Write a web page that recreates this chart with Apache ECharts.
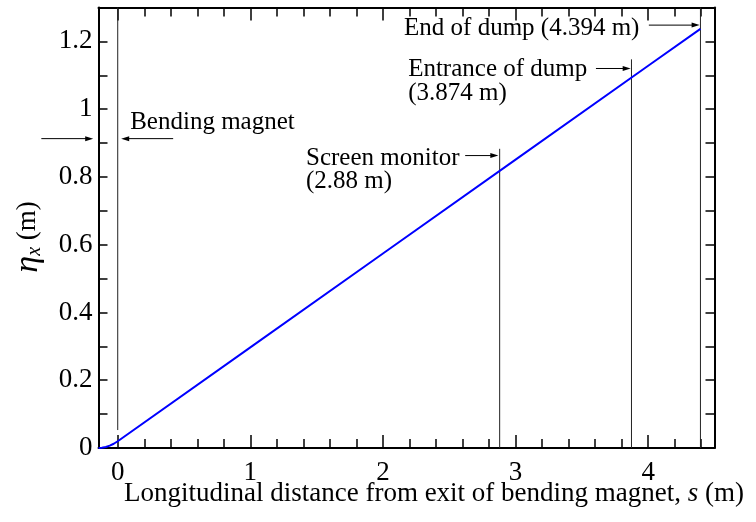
<!DOCTYPE html>
<html>
<head>
<meta charset="utf-8">
<script src="https://cdn.jsdelivr.net/npm/echarts@6/dist/echarts.min.js"></script>
<style>
  html, body { margin: 0; padding: 0; background: #fff; }
  #main { width: 756px; height: 522px; }
</style>
</head>
<body>
<div id="main"></div>
<script>
// dispersion eta_x along the line
var sVals = [-0.145, -0.12, -0.09, -0.06, -0.03, 0, 1, 2, 3, 4, 4.394];
var etaVals = [0, 0.0006, 0.0029, 0.0069, 0.0126, 0.020, 0.297, 0.574, 0.851, 1.128, 1.237];

// vertical marker lines: position, bottom, top
var markS = [0, 2.88, 3.874, 4.394];
var markLow = [0.053, 0, 0, 0];
var markHigh = [1.3, 0.883, 1.147, 1.3];

// tick values
var xLabelVals = [0, 1, 2, 3, 4];
var xMinorVals = [0.2, 0.4, 0.6, 0.8, 1.2, 1.4, 1.6, 1.8, 2.2, 2.4, 2.6, 2.8, 3.2, 3.4, 3.6, 3.8, 4.2, 4.4];
var yLabelVals = [0, 0.2, 0.4, 0.6, 0.8, 1, 1.2];

// annotation texts: [text, s, eta]
var noteTexts = [
  ['Bending magnet', 0.094, 0.962],
  ['Screen monitor', 1.42, 0.855],
  ['(2.88 m)', 1.42, 0.786],
  ['Entrance of dump', 2.19, 1.118],
  ['(3.874 m)', 2.19, 1.046],
  ['End of dump (4.394 m)', 2.159, 1.237]
];
// arrows: [s from, s to (tip), eta]
var noteArrows = [
  [-0.576, -0.185, 0.913],
  [0.418, 0.026, 0.913],
  [2.62, 2.87, 0.863],
  [3.606, 3.868, 1.12],
  [4.005, 4.388, 1.248]
];

var FONT = '"Liberation Serif", "Times New Roman", serif';

var chart = echarts.init(document.getElementById('main'));

var curve = sVals.map(function (s, i) { return [s, etaVals[i]]; });

var series = markS.map(function (s, i) {
  return {
    type: 'line',
    data: [[s, markLow[i]], [s, markHigh[i]]],
    symbol: 'none',
    silent: true,
    lineStyle: { color: '#222', width: 1 },
    z: 2
  };
});
series.push({
  type: 'line',
  data: curve,
  symbol: 'none',
  smooth: false,
  lineStyle: { color: '#0000ff', width: 2 },
  z: 3
});

function xAx(pos, vals, len, showLine, labels) {
  return {
    type: 'value',
    position: pos,
    min: -0.145,
    max: 4.5,
    axisLine: { show: showLine, onZero: false, lineStyle: { color: '#000', width: 2 } },
    axisTick: { show: true, inside: true, length: len, customValues: vals, lineStyle: { color: '#000', width: 1.5 } },
    axisLabel: labels ? { show: true, customValues: vals, margin: 11, color: '#000', fontSize: 27, fontFamily: FONT } : { show: false },
    splitLine: { show: false }
  };
}

function yAx(pos, labels) {
  return {
    type: 'value',
    position: pos,
    min: 0,
    max: 1.3,
    interval: 0.1,
    axisLine: { show: true, onZero: false, lineStyle: { color: '#000', width: 2 } },
    axisTick: { show: true, inside: true, length: 9, lineStyle: { color: '#000', width: 1.5 } },
    axisLabel: labels ? {
      show: true, customValues: yLabelVals, margin: 6, color: '#000', fontSize: 27, fontFamily: FONT,
      formatter: function (v) { return String(Math.round(v * 10) / 10); }
    } : { show: false },
    splitLine: { show: false }
  };
}

var option = {
  backgroundColor: '#fff',
  animation: false,
  grid: { left: 98.5, right: 41.5, top: 7.5, bottom: 74, containLabel: false },
  xAxis: [
    xAx('bottom', xLabelVals, 13, true, true),
    xAx('bottom', xMinorVals, 9, false, false),
    xAx('top', xLabelVals, 13, true, false),
    xAx('top', xMinorVals, 9, false, false)
  ],
  yAxis: [yAx('left', true), yAx('right', false)],
  series: series
};
chart.setOption(option);

// annotations placed through the axes
function px(s, eta) {
  return chart.convertToPixel({ xAxisIndex: 0, yAxisIndex: 0 }, [s, eta]);
}

var graphics = [];
noteTexts.forEach(function (t) {
  var p = px(t[1], t[2]);
  graphics.push({
    type: 'text', x: p[0], y: p[1], z: 10,
    style: { text: t[0], fill: '#000', font: '25px ' + FONT, textAlign: 'left', textVerticalAlign: 'middle' }
  });
});
noteArrows.forEach(function (a) {
  var p0 = px(a[0], a[2]);
  var p1 = px(a[1], a[2]);
  var dir = p1[0] > p0[0] ? 1 : -1;
  graphics.push({
    type: 'line', z: 10,
    shape: { x1: p0[0], y1: p0[1], x2: p1[0] - dir * 5, y2: p1[1] },
    style: { stroke: '#000', lineWidth: 1 }
  });
  graphics.push({
    type: 'polygon', z: 10,
    shape: { points: [[p1[0], p1[1]], [p1[0] - dir * 8, p1[1] - 2.5], [p1[0] - dir * 8, p1[1] + 2.5]] },
    style: { fill: '#000' }
  });
});

// axis titles
graphics.push({
  type: 'text', x: 434, y: 494, z: 10,
  style: {
    text: 'Longitudinal distance from exit of bending magnet, {i|s} (m)',
    fill: '#000', font: '27px ' + FONT, textAlign: 'center', textVerticalAlign: 'middle',
    rich: { i: { fontStyle: 'italic', fontSize: 27, fontFamily: FONT } }
  }
});
graphics.push({
  type: 'text', x: 28, y: 237, rotation: Math.PI / 2, z: 10,
  style: {
    text: '{eta|η}{sub|x}{n| (m)}',
    fill: '#000', textAlign: 'center', textVerticalAlign: 'middle',
    rich: {
      eta: { fontStyle: 'italic', fontSize: 34, fontFamily: FONT, lineHeight: 36, verticalAlign: 'middle' },
      sub: { fontStyle: 'italic', fontSize: 20, fontFamily: FONT, padding: [14, 0, 0, 0], verticalAlign: 'middle' },
      n: { fontSize: 27, fontFamily: FONT, verticalAlign: 'middle' }
    }
  }
});

chart.setOption({ graphic: graphics });
</script>
</body>
</html>
